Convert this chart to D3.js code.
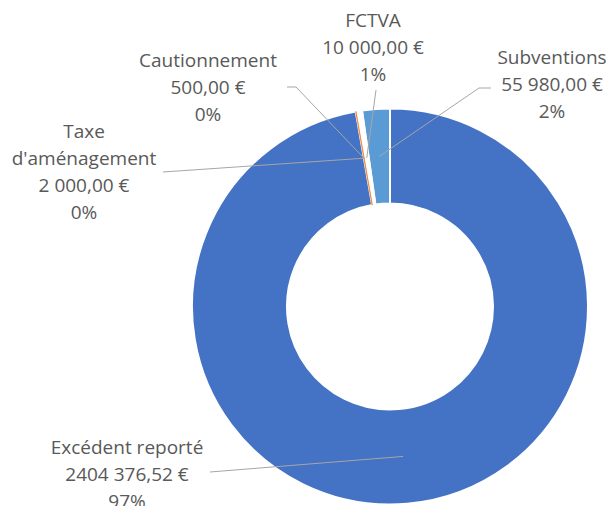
<!DOCTYPE html>
<meta charset="utf-8">
<title>Recettes d'investissement</title>
<style>
body { margin: 0; background: #fff; }
.label text {
  font: 19px "Open Sans", sans-serif;
  fill: #595959;
}
.leaders path {
  fill: none;
  stroke: #a6a6a6;
  stroke-width: 1px;
}
</style>
<svg width="606" height="506"></svg>
<script src="https://d3js.org/d3.v7.min.js"></script>
<script>

// data
var categories = ["Excédent reporté", "Cautionnement", "Taxe d'aménagement", "FCTVA", "Subventions"];
var amounts = [2404376.52, 500, 2000, 10000, 55980];
var shownPct = [97, 0, 0, 1, 2];
var colors = ["#4472c4", "#ed7d31", "none", "none", "#5b9bd5"];

// label placement (center x, first line center y, where the leader starts, elbow)
var labelLayout = [
  {x: 127, y: 447, wrap: false, from: [210, 472]},
  {x: 208, y: 60,  wrap: false, from: [287, 87], elbow: [296, 87]},
  {x: 84,  y: 131, wrap: true,  from: [163, 172]},
  {x: 373, y: 20,  wrap: false, from: [376, 90]},
  {x: 552, y: 57,  wrap: false, from: [491, 88], elbow: [479, 88]}
];

var svg = d3.select("svg"),
    cx = 390,
    cy = 306.5,
    outerR = 198,
    innerR = 103,
    lineH = 27;

var fr = d3.formatLocale({decimal: ",", thousands: " ", grouping: [3, 4], currency: ["", " €"]});
var money = fr.format("$,.2f");

var rows = categories.map(function(c, i) {
  return {name: c, value: amounts[i], pct: shownPct[i], color: colors[i], i: i};
});

var pie = d3.pie().sort(null).value(function(d) { return d.value; });
var arc = d3.arc().innerRadius(innerR).outerRadius(outerR);

var arcs = pie(rows);

var g = svg.append("g").attr("transform", "translate(" + cx + "," + cy + ")");

function thin(d) { return (d.endAngle - d.startAngle) * outerR < 2; }

g.selectAll("path.slice")
  .data(arcs)
  .enter().append("path")
    .attr("class", "slice")
    .attr("d", arc)
    .attr("fill", function(d) { return d.data.color; })
    // slivers too thin to see get outlined in their own colour
    .attr("stroke", function(d) { return thin(d) ? d.data.color : "#fff"; })
    .attr("stroke-width", function(d) { return thin(d) ? 0.9 : 2; })
    .attr("stroke-opacity", function(d) { return thin(d) ? 0.75 : 1; })
  .sort(function(a, b) { return (b.endAngle - b.startAngle) - (a.endAngle - a.startAngle); });

// leader lines
var leaders = svg.append("g").attr("class", "leaders");
arcs.forEach(function(d, i) {
  var L = labelLayout[i];
  var c = arc.centroid(d);
  var pts = [L.from];
  if (L.elbow) pts.push(L.elbow);
  pts.push([c[0] + cx, c[1] + cy]);
  leaders.append("path").attr("d", d3.line()(pts));
});

// data labels
var labels = svg.append("g").attr("class", "label");
rows.forEach(function(r, i) {
  var L = labelLayout[i];
  var sp = r.name.indexOf(" ");
  var lines = L.wrap ? [r.name.slice(0, sp), r.name.slice(sp + 1)] : [r.name];
  lines.push(money(r.value));
  lines.push(r.pct + "%");
  var t = labels.append("text")
      .attr("text-anchor", "middle");
  lines.forEach(function(s, k) {
    t.append("tspan")
      .attr("x", L.x)
      .attr("y", L.y + k * lineH + 7)
      .text(s);
  });
});

</script>
